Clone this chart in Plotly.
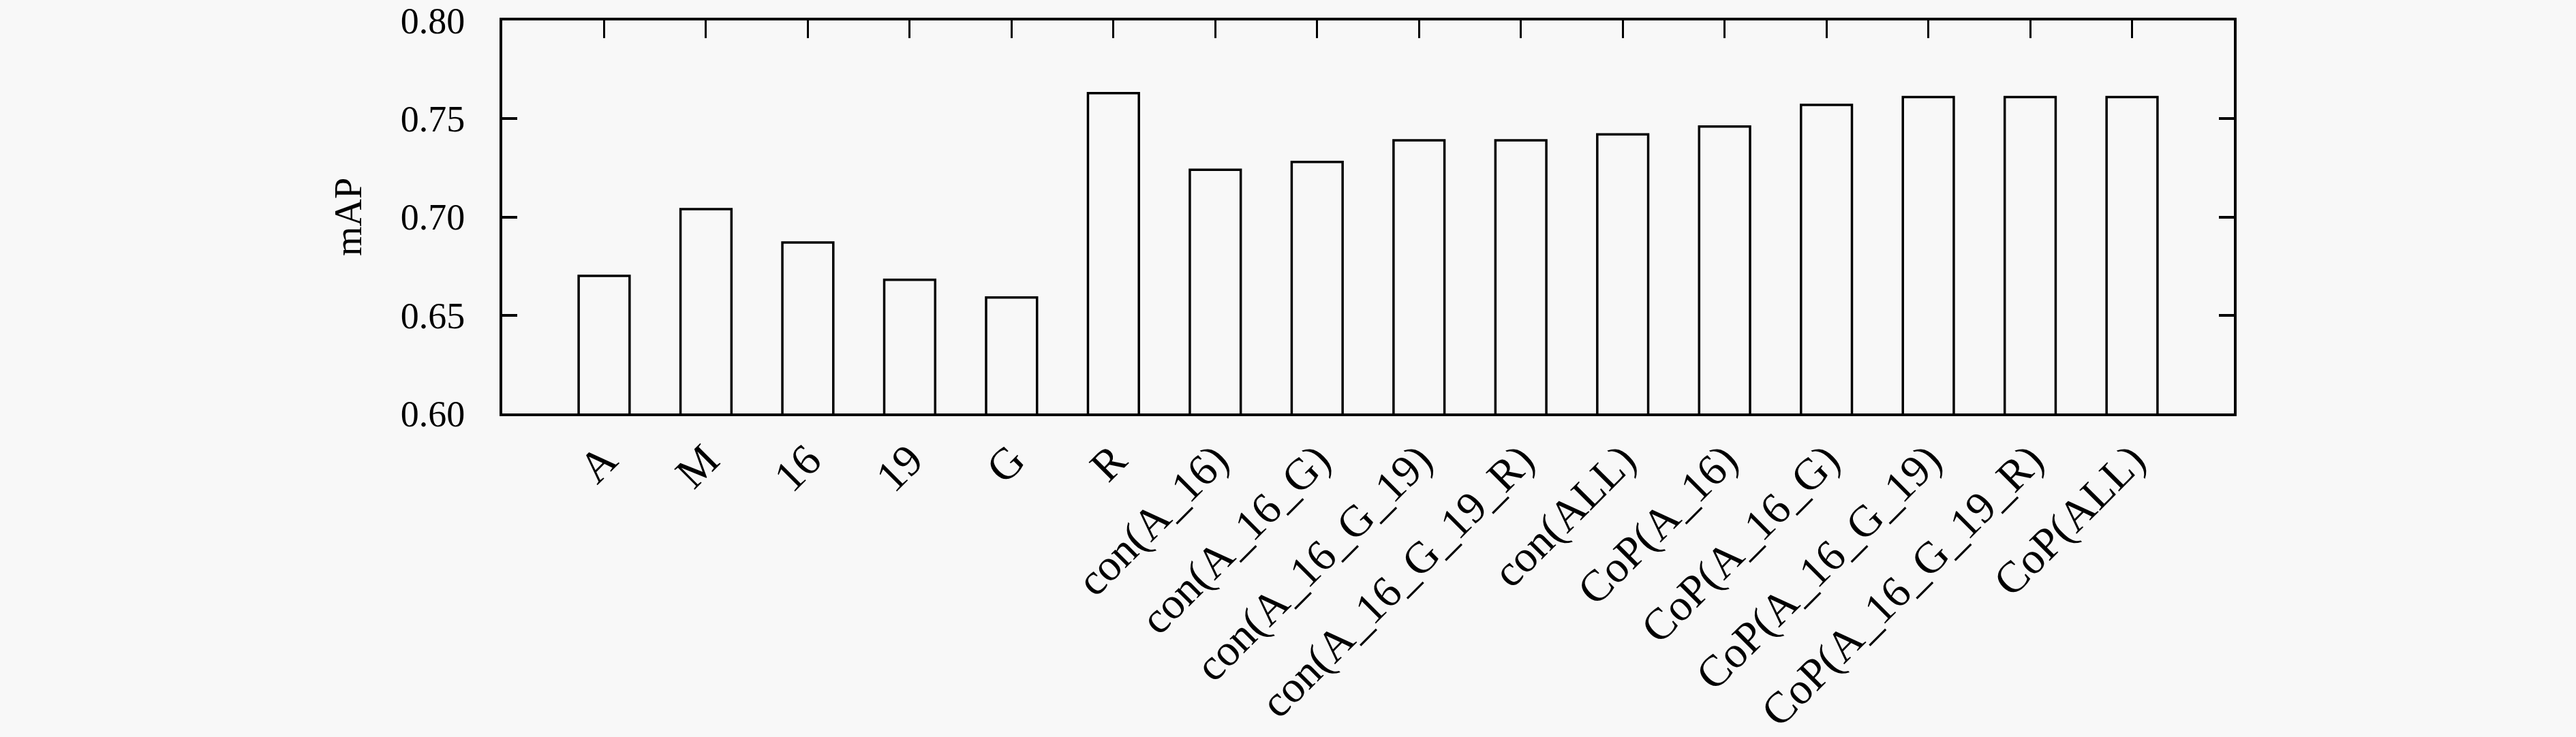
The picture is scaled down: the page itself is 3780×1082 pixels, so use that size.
import plotly.graph_objects as go

# method names and mAP values
methods = ["A", "M", "16", "19", "G", "R",
           "con(A_16)", "con(A_16_G)", "con(A_16_G_19)", "con(A_16_G_19_R)", "con(ALL)",
           "CoP(A_16)", "CoP(A_16_G)", "CoP(A_16_G_19)", "CoP(A_16_G_19_R)", "CoP(ALL)"]
mAP = [0.670, 0.704, 0.687, 0.668, 0.659, 0.763,
       0.724, 0.728, 0.739, 0.739, 0.742,
       0.746, 0.757, 0.761, 0.761, 0.761]
ytick_vals = [0.60, 0.65, 0.70, 0.75, 0.80]

bg = "#f8f8f8"
font_family = "Liberation Serif, DejaVu Serif, serif"
positions = list(range(len(methods)))

fig = go.Figure()
fig.add_trace(go.Bar(
    x=positions,
    y=mAP,
    base=0,
    width=0.5,
    marker=dict(color=bg, line=dict(color="black", width=3.5)),
    showlegend=False,
))

# invisible point so the top tick axis gets drawn
fig.add_trace(go.Scatter(x=[positions[0]], y=[0.6], xaxis="x2", mode="markers",
                         marker=dict(opacity=0), showlegend=False, hoverinfo="skip"))

fig.update_layout(
    width=3780,
    height=1082,
    paper_bgcolor=bg,
    plot_bgcolor=bg,
    margin=dict(l=737, r=502, t=30, b=475),
    font=dict(family=font_family, size=56, color="black"),
    xaxis=dict(
        range=[-1, len(methods)],
        tickmode="array",
        tickvals=positions,
        ticktext=methods,
        tickangle=-45,
        ticks="",
        showline=True,
        linecolor="black",
        linewidth=4,
        mirror=True,
        showgrid=False,
        zeroline=False,
        automargin=False,
        tickfont=dict(size=65),
    ),
    xaxis2=dict(
        overlaying="x",
        side="top",
        range=[-1, len(methods)],
        tickmode="array",
        tickvals=positions,
        ticks="inside",
        ticklen=26,
        tickwidth=3,
        tickcolor="black",
        showticklabels=False,
        showgrid=False,
        zeroline=False,
        showline=False,
        automargin=False,
    ),
    yaxis=dict(
        range=[0.60, 0.80],
        tickmode="array",
        tickvals=ytick_vals,
        tickformat=".2f",
        ticks="inside",
        ticklen=22,
        tickwidth=4,
        tickcolor="black",
        showline=True,
        linecolor="black",
        linewidth=4,
        mirror="ticks",
        showgrid=False,
        zeroline=False,
        automargin=False,
        ticklabelstandoff=40,
        ticklabeloverflow="allow",
        tickfont=dict(size=54),
        title=dict(text="mAP", standoff=40, font=dict(size=56)),
    ),
)

# drop the page's default body margin so the figure fills the window
fig.write_html("out.html", config={"displayModeBar": False},
               post_script="document.body.style.margin='0';")
